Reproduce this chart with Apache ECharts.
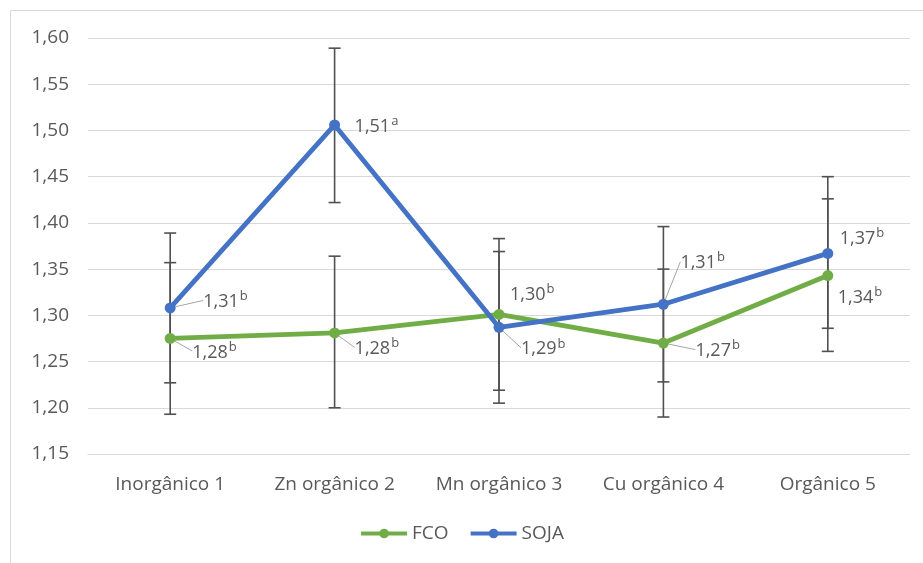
<!DOCTYPE html>
<html>
<head>
<meta charset="utf-8">
<script src="https://cdn.jsdelivr.net/npm/echarts@6/dist/echarts.min.js"></script>
<style>
  html, body { margin: 0; padding: 0; background: #fff; }
  #main { width: 923px; height: 563px; }
</style>
</head>
<body>
<div id="main"></div>
<script>
// categorias e médias
var categories = ['Inorgânico 1', 'Zn orgânico 2', 'Mn orgânico 3', 'Cu orgânico 4', 'Orgânico 5'];
var fco = [1.275, 1.281, 1.301, 1.270, 1.343];
var soja = [1.308, 1.506, 1.287, 1.312, 1.367];

// barras de erro (limite inferior / superior)
var fcoLow = [1.193, 1.200, 1.219, 1.190, 1.261];
var fcoHigh = [1.357, 1.364, 1.383, 1.350, 1.426];
var sojaLow = [1.227, 1.422, 1.205, 1.228, 1.286];
var sojaHigh = [1.389, 1.589, 1.369, 1.396, 1.450];

// rótulos com letra sobrescrita
var fcoText = ['1,28', '1,28', '1,30', '1,27', '1,34'];
var fcoSup = ['b', 'b', 'b', 'b', 'b'];
var sojaText = ['1,31', '1,51', '1,29', '1,31', '1,37'];
var sojaSup = ['b', 'a', 'b', 'b', 'b'];

// deslocamento dos rótulos a partir do ponto [dx, dy, linha guia]
var fcoOffsets = [[22, 14, true], [20, 16, true], [11, -20, false], [32, 8, true], [10, 22, false]];
var sojaOffsets = [[33, -6, true], [20, 2, false], [22, 22, true], [17, -41, true], [12, -15, false]];

var FONT = 'Open Sans';
var TXT = '#595959';

var chart = echarts.init(document.getElementById('main'), null, { renderer: 'canvas' });

function buildData(values, texts, sups, offsets) {
  return values.map(function (v, i) {
    return {
      value: v,
      label: { formatter: '{v|' + texts[i] + '}{s|' + sups[i] + '}' },
      labelLine: { show: offsets[i][2] }
    };
  });
}

function layoutFor(offsets) {
  return function (params) {
    var o = offsets[params.dataIndex];
    var cx = params.rect.x + params.rect.width / 2;
    var cy = params.rect.y + params.rect.height / 2;
    return {
      x: cx + o[0],
      y: cy + o[1],
      align: 'left',
      verticalAlign: 'middle'
    };
  };
}

function errorBar(params, api) {
  var x = api.value(0);
  var lo = api.coord([x, api.value(1)]);
  var hi = api.coord([x, api.value(2)]);
  var half = 6;
  var st = { stroke: '#505050', lineWidth: 1.6 };
  return {
    type: 'group',
    children: [
      { type: 'line', shape: { x1: lo[0], y1: lo[1], x2: hi[0], y2: hi[1] }, style: st },
      { type: 'line', shape: { x1: lo[0] - half, y1: lo[1], x2: lo[0] + half, y2: lo[1] }, style: st },
      { type: 'line', shape: { x1: hi[0] - half, y1: hi[1], x2: hi[0] + half, y2: hi[1] }, style: st }
    ]
  };
}

var labelRich = {
  v: { fontFamily: FONT, fontSize: 18, color: TXT, lineHeight: 24 },
  s: { fontFamily: FONT, fontSize: 13, color: TXT, verticalAlign: 'top', lineHeight: 13, padding: [0, 0, 0, 1] }
};

function lineSeries(name, color, values, texts, sups, offsets) {
  return {
    name: name,
    type: 'line',
    data: buildData(values, texts, sups, offsets),
    symbol: 'circle',
    symbolSize: 11,
    z: 3,
    lineStyle: { width: 4.8, color: color },
    itemStyle: { color: color },
    label: {
      show: true,
      rich: labelRich
    },
    labelLine: {
      show: true,
      lineStyle: { color: '#a6a6a6', width: 1 }
    },
    labelLayout: layoutFor(offsets),
    emphasis: { disabled: true },
    animation: false
  };
}

function errSeries(name, low, high) {
  return {
    name: name,
    type: 'custom',
    renderItem: errorBar,
    data: categories.map(function (c, i) { return [i, low[i], high[i]]; }),
    encode: { x: 0, y: [1, 2] },
    z: 2,
    silent: true,
    animation: false
  };
}

var option = {
  backgroundColor: '#ffffff',
  textStyle: { fontFamily: FONT },
  graphic: [{
    type: 'rect',
    shape: { x: 10.5, y: 10.5, width: 940, height: 600 },
    style: { fill: 'none', stroke: '#d9d9d9', lineWidth: 1 },
    silent: true,
    z: -1
  }],
  grid: { left: 88, right: 13, top: 38, bottom: 109 },
  legend: {
    data: ['FCO', 'SOJA'],
    bottom: 15,
    left: 'center',
    itemWidth: 46,
    itemHeight: 12,
    itemGap: 20,
    itemStyle: { borderWidth: 0 },
    lineStyle: { width: 4 },
    textStyle: { fontFamily: FONT, fontSize: 19, color: TXT }
  },
  xAxis: {
    type: 'category',
    data: categories,
    boundaryGap: true,
    axisLine: { lineStyle: { color: '#d9d9d9', width: 1 } },
    axisTick: { show: false },
    axisLabel: { interval: 0, fontFamily: FONT, fontSize: 19, color: TXT, margin: 21 }
  },
  yAxis: {
    type: 'value',
    min: 1.15,
    max: 1.60,
    interval: 0.05,
    axisLine: { show: false },
    axisTick: { show: false },
    splitLine: { lineStyle: { color: '#d9d9d9', width: 1 } },
    axisLabel: {
      fontFamily: FONT, fontSize: 19, color: TXT, margin: 19,
      formatter: function (v) { return v.toFixed(2).replace('.', ','); }
    }
  },
  series: [
    errSeries('err FCO', fcoLow, fcoHigh),
    errSeries('err SOJA', sojaLow, sojaHigh),
    lineSeries('FCO', '#70ad47', fco, fcoText, fcoSup, fcoOffsets),
    lineSeries('SOJA', '#4472c4', soja, sojaText, sojaSup, sojaOffsets)
  ]
};

chart.setOption(option);
</script>
</body>
</html>
